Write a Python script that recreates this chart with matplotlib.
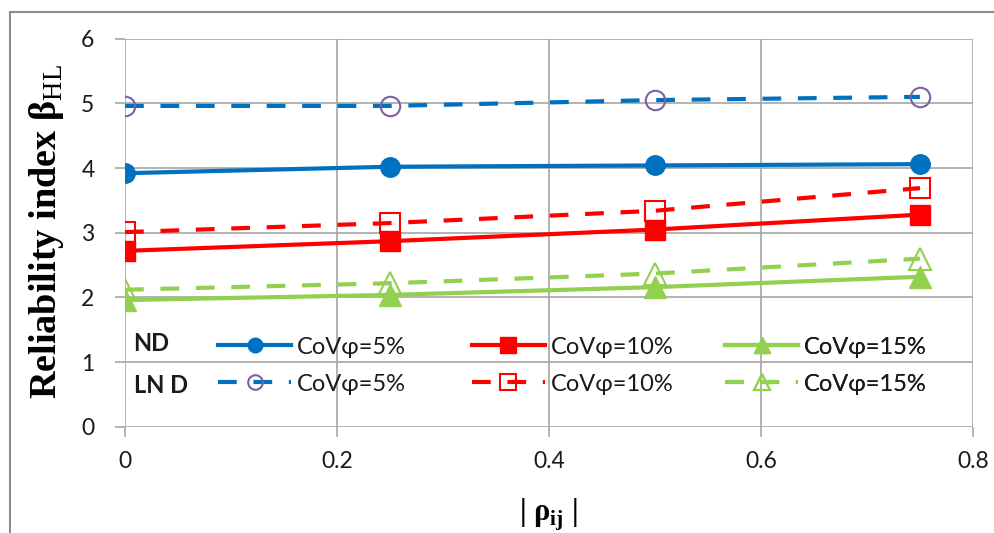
import matplotlib
matplotlib.use("Agg")
import matplotlib.pyplot as plt
from matplotlib.patches import Rectangle

plt.rcParams['font.family'] = ['Lato', 'DejaVu Sans']
plt.rcParams['mathtext.fontset'] = 'custom'
plt.rcParams['mathtext.rm'] = 'Liberation Serif'
plt.rcParams['mathtext.bf'] = 'Liberation Serif:bold'

# |rho_ij| values
rho = [0, 0.25, 0.5, 0.75]

# reliability index, normal distribution (ND)
nd_5 = [3.92, 4.02, 4.04, 4.06]
nd_10 = [2.72, 2.87, 3.05, 3.28]
nd_15 = [1.96, 2.04, 2.16, 2.32]

# reliability index, lognormal distribution (LN D)
ln_5 = [4.96, 4.96, 5.05, 5.10]
ln_10 = [3.01, 3.15, 3.34, 3.69]
ln_15 = [2.12, 2.22, 2.37, 2.60]

labels = ['CoVφ=5%', 'CoVφ=10%', 'CoVφ=15%']
xticks = [0, 0.2, 0.4, 0.6, 0.8]
yticks = [0, 1, 2, 3, 4, 5, 6]

blue = '#0070C0'
red = '#FF0000'
green = '#92D050'
purple = '#7D60A0'

fig = plt.figure(figsize=(9.94, 5.33), dpi=100)
ax = fig.add_axes([0.1258, 0.199, 0.853, 0.7286])

lw = 3
dash = (4.5, 4)
nd = []
ln = []
nd.append(ax.plot(rho, nd_5, color=blue, lw=lw, marker='o', ms=14)[0])
ln.append(ax.plot(rho, ln_5, color=blue, lw=lw, ls='--', dashes=dash, marker='o', ms=14,
                  mfc='none', mec=purple, mew=1.5)[0])
nd.append(ax.plot(rho, nd_10, color=red, lw=lw, marker='s', ms=15)[0])
ln.append(ax.plot(rho, ln_10, color=red, lw=lw, ls='--', dashes=dash, marker='s', ms=15,
                  mfc='none', mec=red, mew=1.5)[0])
nd.append(ax.plot(rho, nd_15, color=green, lw=lw, marker='^', ms=16)[0])
ln.append(ax.plot(rho, ln_15, color=green, lw=lw, ls='--', dashes=dash, marker='^', ms=16,
                  mfc='none', mec=green, mew=1.5)[0])

ax.set_xlim(0, 0.8)
ax.set_ylim(0, 6)
ax.set_xticks(xticks)
ax.set_xticklabels(['0', '0.2', '0.4', '0.6', '0.8'])
ax.set_yticks(yticks)
for s in ax.spines.values():
    s.set_visible(False)
ax.grid(True, color='#A6A6A6', lw=1.2)
ax.set_axisbelow(True)
ax.tick_params(axis='both', length=7, width=1.2, color='#A6A6A6', labelsize=16.5, labelcolor='#1a1a1a')
ax.tick_params(axis='x', pad=10)
ax.tick_params(axis='y', pad=15)

# one legend per column, like the excel layout
col_x = [0.1097, 0.409, 0.7075]
for i in range(3):
    leg = ax.legend(handles=[nd[i], ln[i]], labels=[labels[i], labels[i]], frameon=False,
                    fontsize=17, handlelength=3.1, handletextpad=0.25, labelspacing=0.68,
                    markerscale=0.75, borderpad=0, borderaxespad=0,
                    loc='center left', bbox_to_anchor=(col_x[i], 0.158))
    for t in leg.get_texts():
        t.set_color('#1a1a1a')
    ax.add_artist(leg)

ax.text(0.01, 0.214, 'ND', transform=ax.transAxes, fontsize=17, fontweight='bold',
        va='center', ha='left', color='#1a1a1a')
ax.text(0.01, 0.107, 'LN D', transform=ax.transAxes, fontsize=17, fontweight='bold',
        va='center', ha='left', color='#1a1a1a')

fig.text(47 / 994, 1 - 232 / 533, r'Reliability index β$_{\mathrm{HL}}$', rotation=90,
         family='Liberation Serif', fontweight='bold', fontsize=27.5,
         ha='center', va='center')
fig.text(548 / 994, 1 - 515 / 533, r'| ρ$_{\mathbf{ij}}$ |', family='Liberation Serif',
         fontweight='bold', fontsize=22, ha='center', va='center')

fig.patches.append(Rectangle((10 / 994, -0.1), 1.2, 1.1 - 12 / 533, transform=fig.transFigure,
                             fill=False, ec='#8C8C8C', lw=1.5))

fig.savefig('out.png', dpi=100)
